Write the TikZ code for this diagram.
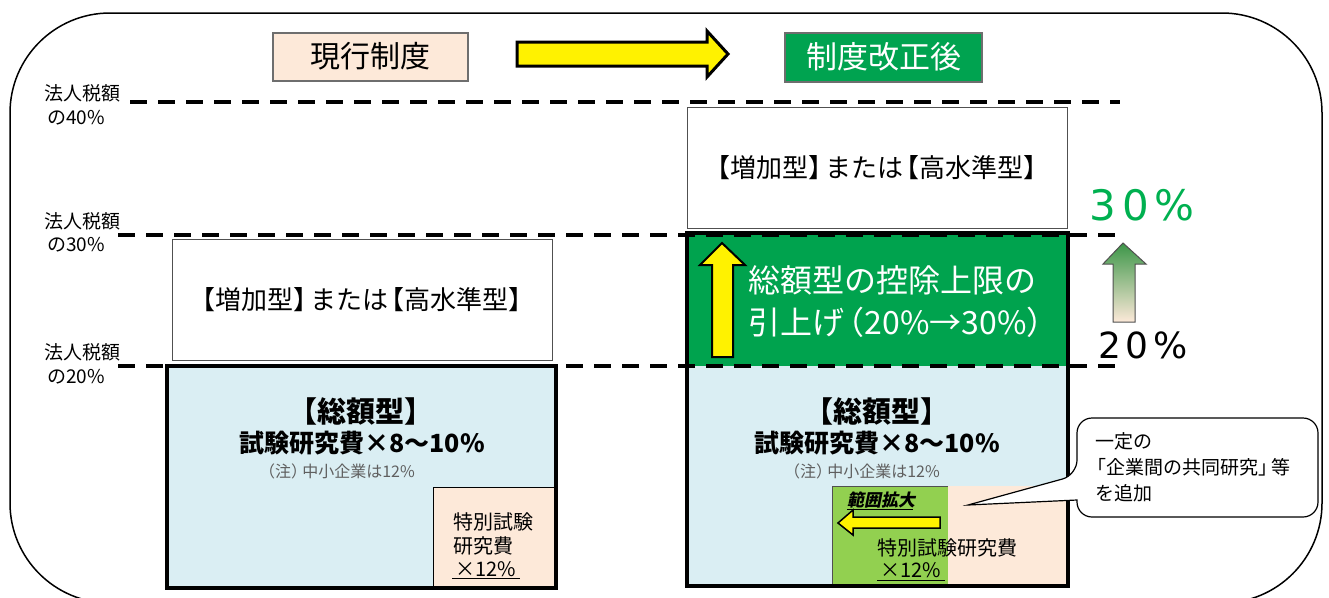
\documentclass[tikz,border=0pt]{standalone}
\usepackage{fontspec}
\setmainfont{Noto Sans CJK JP}
\newfontfamily\latinfont{DejaVu Sans}
\newfontfamily\cjkslant[FakeSlant=0.2]{Noto Sans CJK JP}
\definecolor{peach}{RGB}{253,233,217}
\definecolor{hdrgreen}{RGB}{0,163,80}
\definecolor{boxgreen}{RGB}{0,163,78}
\definecolor{lblue}{RGB}{218,238,243}
\definecolor{lgreen}{RGB}{146,208,80}
\definecolor{pctgreen}{RGB}{0,176,80}
\definecolor{notegray}{RGB}{95,95,95}
\definecolor{hdrgray}{RGB}{110,110,110}
\definecolor{boxgray}{RGB}{80,80,80}
\definecolor{arrgreen}{RGB}{60,150,72}
\begin{document}
\begin{tikzpicture}[x=1pt,y=-1pt,
  every node/.style={inner sep=0pt, outer sep=0pt},
  lbl/.style={font=\fontsize{19}{22}\selectfont},
  dashln/.style={line width=3.5pt, dash pattern=on 17pt off 11pt},
  whitebox/.style={draw=boxgray, line width=1pt, fill=white, minimum width=380pt, minimum height=121pt, font=\fontsize{26}{31}\selectfont},
  hdrbox/.style={draw=hdrgray, line width=2pt, minimum height=48pt},
  thickbd/.style={line width=4pt, draw=black},
  bigtitle/.style={font=\bfseries\fontsize{29}{34}\selectfont},
  ratetxt/.style={font=\bfseries\fontsize{25}{30}\selectfont},
  notetxt/.style={font=\fontsize{16}{19}\selectfont, text=notegray},
  smalltxt/.style={font=\fontsize{20}{24}\selectfont},
  greentxt/.style={font=\fontsize{32}{38}\selectfont, text=white, anchor=west},
  calltxt/.style={font=\fontsize{19}{23}\selectfont, anchor=west},
  yarrow/.style={fill=yellow, draw=black, line join=miter}
]
\useasboundingbox (0,0) rectangle (1329,597);
\clip (0,0) rectangle (1329,597);

% outer frame
\draw[line width=1.5pt, rounded corners=100pt] (10,13) rectangle (1322,603);

% headers
\node[hdrbox, fill=peach, minimum width=195pt, font=\fontsize{30}{36}\selectfont] (cur) at (370.5,56.5) {現行制度};
\node[hdrbox, fill=hdrgreen, text=white, minimum width=197pt, minimum height=49pt, font=\fontsize{31}{37}\selectfont] (rev) at (883.5,57) {制度改正後};
\draw[yarrow, line width=3pt] (517,42) -- (707,42) -- (707,31) -- (728,54) -- (707,77) -- (707,66) -- (517,66) -- cycle;

% fills
\fill[lblue] (167,366) rectangle (556,588);
\fill[peach] (433,487) rectangle (554,587);
\draw[line width=1pt] (433,587) -- (433,487) -- (554,487);
\fill[boxgreen] (687,233) rectangle (1068,366);
\fill[lblue] (687,366) rectangle (1068,586);
\fill[lgreen] (832,486) rectangle (948,585);
\fill[peach] (948,486) rectangle (1066,585);
\draw[line width=1pt, draw=boxgray] (832,585) -- (832,486) -- (948,486);

% dashed levels
\draw[dashln] (130,102) -- (1120,102);
\draw[dashln] (118,235) -- (1122,235);
\draw[dashln] (118,366) -- (1122,366);

% borders
\draw[thickbd] (167,366) rectangle (556,588);
\draw[line width=3.5pt] (687,233) rectangle (1068,586);

% white boxes
\node[whitebox] (incL) at (362,299.5) {【増加型】\kern-0.35emまたは\kern-0.35em【高水準型】};
\node[whitebox] (incR) at (877,167.5) {【増加型】\kern-0.35emまたは\kern-0.35em【高水準型】};

% level labels
\node[lbl] (l40a) at (82,93) {法人税額};
\node[lbl] (l40b) at (76,118) {の40\%};
\node[lbl] (l30a) at (82,221) {法人税額};
\node[lbl] (l30b) at (76,245) {の30\%};
\node[lbl] (l20a) at (82,352) {法人税額};
\node[lbl] (l20b) at (76,377) {の20\%};

% left total type
\node[bigtitle] (sogL) at (361,411) {【総額型】};
\node[ratetxt] (rateL) at (362,443) {試験研究費×8～10\%};
\node[notetxt] (noteL) at (337,471) {（注）\kern-0.3em中小企業は12\%};
\node[smalltxt, anchor=west] (spL1) at (453,522) {特別試験};
\node[smalltxt, anchor=west] (spL2) at (453,546) {研究費};
\node[smalltxt, anchor=west] (spL3) at (455,569) {×12\%};
\draw[line width=1pt] (452,578) -- (520,578);

% right total type
\node[bigtitle] (sogR) at (877,411) {【総額型】};
\node[ratetxt] (rateR) at (877,443) {試験研究費×8～10\%};
\node[notetxt] (noteR) at (862,471) {（注）\kern-0.3em中小企業は12\%};
\node[font=\cjkslant\bfseries\fontsize{17}{20}\selectfont, anchor=west] (expand) at (847,500) {範囲拡大};
\draw[line width=1pt] (847,509) -- (913,509);
\draw[yarrow, line width=1.5pt] (838,523) -- (853,510) -- (853,517) -- (940,517) -- (940,528) -- (853,528) -- (853,535) -- cycle;
\node[smalltxt] (spR1) at (947,548) {特別試験研究費};
\node[smalltxt, anchor=west] (spR2) at (880,570) {×12\%};
\draw[line width=1pt] (877,580) -- (945,580);

% green raise box
\draw[yarrow, line width=2pt] (712,357) -- (712,265) -- (700,265) -- (722,243) -- (745,265) -- (733,265) -- (733,357) -- cycle;
\node[greentxt] (up1) at (748,280) {総額型の控除上限の};
\node[greentxt] (up2) at (748,322) {引上げ\kern-0.35em（20\%→30\%）};

% right side percentages
\node[font=\latinfont\fontsize{42}{48}\selectfont, text=pctgreen] (pct30) at (1142,205) {3\kern6pt0\kern6pt\%};
\shadedraw[top color=arrgreen, bottom color=peach, draw=boxgray, line width=1pt] (1113,322) -- (1113,264) -- (1103,264) -- (1123,243) -- (1146,264) -- (1135,264) -- (1135,322) -- cycle;
\node[font=\latinfont\fontsize{36}{42}\selectfont] (pct20) at (1143,345) {2\kern5pt0\kern5pt\%};

% callout
\draw[line width=1.2pt, fill=white] (968,505) -- (1077,500) [rounded corners=15pt] -- (1077,517) -- (1318,517) -- (1318,418) -- (1077,418) -- (1077,475) [sharp corners] -- cycle;
\node[calltxt] (c1) at (1095,441) {一定の};
\node[calltxt] (c2) at (1087,467) {「企業間の共同研究」\kern-0.3em等};
\node[calltxt] (c3) at (1095,493) {を追加};
\end{tikzpicture}
\end{document}
